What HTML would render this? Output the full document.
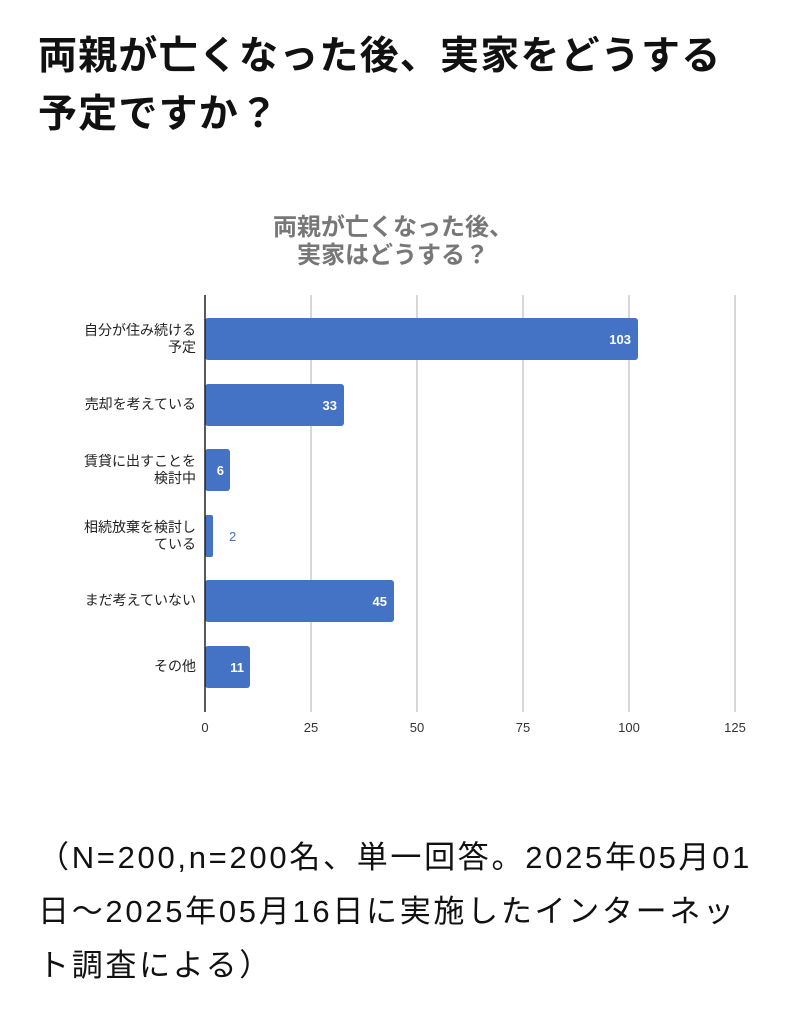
<!DOCTYPE html>
<html><head><meta charset="utf-8"><style>
body{margin:0;width:794px;height:1024px;background:#fff;font-family:"Liberation Sans","Noto Sans CJK JP",sans-serif;position:relative;overflow:hidden}
.h{position:absolute;left:38px;top:28px;font-size:39px;font-weight:bold;line-height:58px;color:#111;white-space:nowrap;letter-spacing:1.2px}
.ct{position:absolute;left:193px;width:400px;top:214px;text-align:center;font-size:24px;font-weight:bold;color:#777;line-height:28px}
.lab{position:absolute;right:598px;text-align:right;font-size:14px;color:#222;line-height:17px;white-space:nowrap}
.foot{position:absolute;left:38px;top:831px;font-size:31px;letter-spacing:2.7px;line-height:54px;color:#111;white-space:nowrap}
</style></head><body>
<div class="h">両親が亡くなった後、実家をどうする<br>予定ですか？</div>
<div class="ct">両親が亡くなった後、<br>実家はどうする？</div>
<svg width="794" height="1024" style="position:absolute;left:0;top:0">
<g stroke="#ccc" stroke-width="1.5">
<line x1="311" y1="295" x2="311" y2="712"/><line x1="417" y1="295" x2="417" y2="712"/><line x1="523" y1="295" x2="523" y2="712"/><line x1="629" y1="295" x2="629" y2="712"/><line x1="735" y1="295" x2="735" y2="712"/>
</g>
<g fill="#4472c4">
<rect x="205" y="318" width="433" height="42" rx="3"/>
<rect x="205" y="384" width="139" height="42" rx="3"/>
<rect x="205" y="449" width="25" height="42" rx="3"/>
<rect x="205" y="515" width="8" height="42" rx="2"/>
<rect x="205" y="580" width="189" height="42" rx="3"/>
<rect x="205" y="646" width="45" height="42" rx="3"/>
</g>
<line x1="205" y1="295" x2="205" y2="712" stroke="#222" stroke-width="1.5"/>
<g font-family="Liberation Sans,sans-serif" font-size="13" font-weight="bold" fill="#fff" text-anchor="end">
<text x="631" y="344">103</text><text x="337" y="410">33</text><text x="224" y="475">6</text><text x="387" y="606">45</text><text x="244" y="672">11</text>
</g>
<text x="229" y="541" font-family="Liberation Sans,sans-serif" font-size="13" fill="#4472c4">2</text>
<g font-family="Liberation Sans,sans-serif" font-size="13" fill="#333" text-anchor="middle">
<text x="205" y="732">0</text><text x="311" y="732">25</text><text x="417" y="732">50</text><text x="523" y="732">75</text><text x="629" y="732">100</text><text x="735" y="732">125</text>
</g>
</svg>
<div class="lab" style="top:322px">自分が住み続ける<br>予定</div>
<div class="lab" style="top:396px">売却を考えている</div>
<div class="lab" style="top:453px">賃貸に出すことを<br>検討中</div>
<div class="lab" style="top:519px">相続放棄を検討し<br>ている</div>
<div class="lab" style="top:592px">まだ考えていない</div>
<div class="lab" style="top:658px">その他</div>
<div class="foot">（N=200,n=200名、単一回答。2025年05月01<br>日〜2025年05月16日に実施したインターネッ<br>ト調査による）</div>
</body></html>
